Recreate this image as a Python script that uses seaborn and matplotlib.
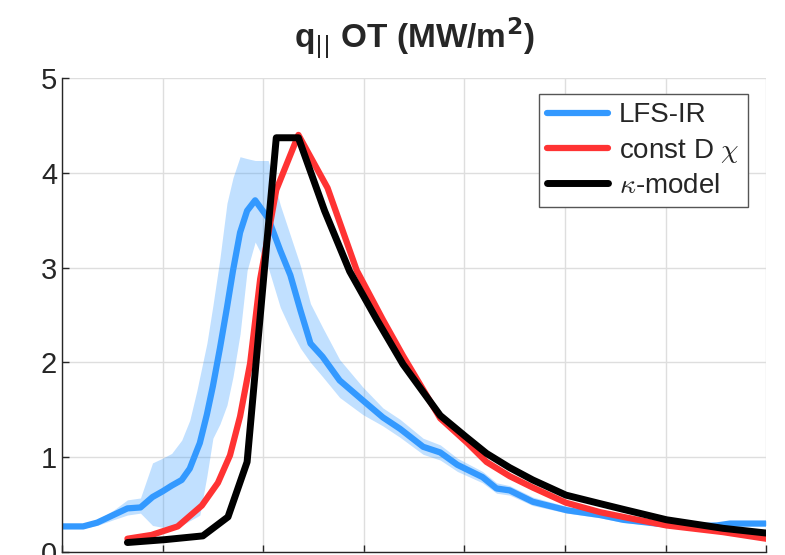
import numpy as np
import pandas as pd
import matplotlib
matplotlib.use('Agg')
import matplotlib.pyplot as plt
import seaborn as sns

# ---- data ----
x_ir = [0.00, 0.21, 0.35, 0.51, 0.65, 0.78, 0.90, 1.00, 1.09, 1.19, 1.27, 1.34, 1.37, 1.44,
        1.50, 1.57, 1.64, 1.70, 1.77, 1.84, 1.92, 2.05, 2.17, 2.27, 2.37, 2.47, 2.59, 2.76,
        2.99, 3.19, 3.36, 3.59, 3.76, 3.93, 4.18, 4.32, 4.45, 4.68, 5.02, 5.35, 5.58, 5.91,
        6.24, 6.51, 6.64, 7.00]
q_ir = [0.27, 0.27, 0.31, 0.39, 0.46, 0.47, 0.58, 0.64, 0.70, 0.76, 0.88, 1.07, 1.15, 1.45,
        1.75, 2.15, 2.58, 2.97, 3.37, 3.60, 3.71, 3.52, 3.18, 2.92, 2.55, 2.20, 2.06, 1.81,
        1.60, 1.42, 1.30, 1.11, 1.05, 0.92, 0.79, 0.67, 0.65, 0.53, 0.44, 0.39, 0.34, 0.30,
        0.27, 0.28, 0.30, 0.30]
q_ir_hi = [0.30, 0.30, 0.34, 0.44, 0.55, 0.57, 0.94, 0.99, 1.04, 1.18, 1.39, 1.70, 1.85, 2.20,
           2.60, 3.10, 3.68, 3.95, 4.17, 4.15, 4.13, 4.13, 3.66, 3.34, 3.02, 2.62, 2.37, 2.03,
           1.74, 1.52, 1.40, 1.20, 1.13, 0.99, 0.85, 0.73, 0.70, 0.58, 0.48, 0.42, 0.37, 0.33,
           0.30, 0.31, 0.33, 0.33]
q_ir_lo = [0.25, 0.25, 0.28, 0.34, 0.39, 0.41, 0.28, 0.26, 0.27, 0.28, 0.33, 0.37, 0.39, 0.80,
           1.20, 1.35, 1.55, 1.85, 2.30, 2.97, 3.27, 3.00, 2.58, 2.35, 2.15, 2.00, 1.85, 1.63,
           1.45, 1.33, 1.21, 1.03, 0.97, 0.85, 0.73, 0.62, 0.60, 0.49, 0.41, 0.36, 0.31, 0.28,
           0.25, 0.26, 0.28, 0.28]

x_dchi = [0.65, 0.89, 1.15, 1.39, 1.55, 1.67, 1.77, 1.87, 1.97, 2.13, 2.35, 2.64, 2.93, 3.19,
          3.39, 3.76, 4.03, 4.22, 4.45, 4.68, 5.01, 5.35, 5.58, 6.01, 6.57, 7.00]
q_dchi = [0.14, 0.18, 0.27, 0.49, 0.73, 1.02, 1.43, 1.99, 2.88, 3.82, 4.40, 3.84, 2.97, 2.45,
          2.07, 1.41, 1.15, 0.95, 0.80, 0.68, 0.52, 0.42, 0.37, 0.28, 0.21, 0.14]

x_kappa = [0.65, 1.02, 1.40, 1.65, 1.84, 2.13, 2.35, 2.61, 2.86, 3.13, 3.39, 3.76, 4.01,
           4.22, 4.45, 4.68, 5.01, 5.35, 5.58, 6.01, 6.57, 7.00]
q_kappa = [0.10, 0.13, 0.17, 0.37, 0.95, 4.37, 4.37, 3.60, 2.96, 2.45, 1.98, 1.44, 1.22,
           1.04, 0.89, 0.76, 0.60, 0.51, 0.45, 0.34, 0.25, 0.20]

labels = ['LFS-IR', r'const D $\chi$', r'$\kappa$-model']
colors = ['#3399ff', '#ff3333', '#000000']

sns.set_theme(style='white')
plt.rcParams['font.family'] = ['Liberation Sans', 'DejaVu Sans']
plt.rcParams['mathtext.fontset'] = 'cm'

fig = plt.figure(figsize=(7.85, 5.55), dpi=100)
ax = fig.add_axes([0.079, 0.0054, 0.897, 0.854])

ax.fill_between(x_ir, q_ir_lo, q_ir_hi, color=colors[0], alpha=0.3, lw=0)
sns.lineplot(x=x_ir, y=q_ir, color=colors[0], lw=4.5, label=labels[0], ax=ax)
sns.lineplot(x=x_dchi, y=q_dchi, color=colors[1], lw=4.5, label=labels[1], ax=ax)
sns.lineplot(x=x_kappa, y=q_kappa, color=colors[2], lw=5, label=labels[2], ax=ax)

ax.set_xlim(0, 7)
ax.set_ylim(0, 5)
ax.set_xticks(np.arange(0, 8, 1))
ax.set_yticks(np.arange(0, 6, 1))
ax.grid(True, color='#dedede', lw=1)
ax.set_axisbelow(True)
for s in ['top', 'right']:
    ax.spines[s].set_visible(False)
for s in ['left', 'bottom']:
    ax.spines[s].set_color('#262626')
    ax.spines[s].set_linewidth(1)
ax.tick_params(axis='both', direction='in', length=5, width=1, color='#262626',
               labelsize=21, labelcolor='#262626', left=True, bottom=True)
ax.tick_params(axis='x', labelbottom=False)
ax.set_xlabel('')
ax.set_ylabel('')

t = ax.set_title(r'q$_{||}$ OT (MW/m$^{\mathbf{2}}$)', fontsize=24, fontweight='bold', pad=22)
t.set_math_fontfamily('dejavusans')

leg = ax.legend(loc='upper right', bbox_to_anchor=(0.974, 0.966), borderaxespad=0,
                fontsize=20, frameon=True, fancybox=False, framealpha=1,
                edgecolor='#555555', handlelength=2.2, handletextpad=0.4,
                labelspacing=0.3, borderpad=0.3)
leg.get_frame().set_linewidth(1)

fig.savefig('out.png', dpi=100)
